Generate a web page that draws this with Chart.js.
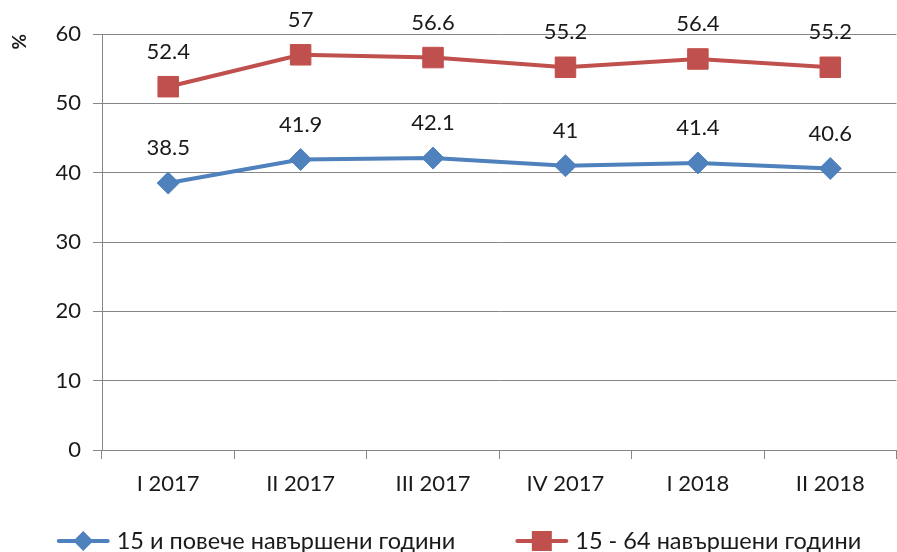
<!DOCTYPE html>
<html><head><meta charset="utf-8">
<script src="https://cdn.jsdelivr.net/npm/chart.js@4/dist/chart.umd.min.js"></script>
<style>html,body{margin:0;padding:0;overflow:hidden;background:#fff}#wrap{width:912px;height:552px}</style>
</head><body><div id="wrap"><canvas id="c" width="912" height="552"></canvas></div>
<script>
const categories = ["I 2017","II 2017","III 2017","IV 2017","I 2018","II 2018"];
const series1 = [38.5, 41.9, 42.1, 41, 41.4, 40.6];
const series2 = [52.4, 57, 56.6, 55.2, 56.4, 55.2];
const seriesNames = ["15 и повече навършени години", "15 - 64 навършени години"];
const yTicks = [0,10,20,30,40,50,60];
const FONT = "Lato, 'Open Sans', sans-serif";
const BLUE = "#4F81BD", RED = "#C0504D";
const TXT = "#1a1a1a";

const labelPlugin = {
  id:'valLabels',
  afterDatasetsDraw(chart){
    const ctx = chart.ctx;
    ctx.save();
    ctx.font = "22px " + FONT;
    ctx.fillStyle = TXT;
    ctx.textAlign = 'center'; ctx.textBaseline = 'middle';
    chart.data.datasets.forEach((ds,i)=>{
      chart.getDatasetMeta(i).data.forEach((pt,j)=>{
        ctx.fillText(String(ds.data[j]), pt.x, pt.y - 35);
      });
    });
    ctx.restore();
  }
};

const legendPlugin = {
  id:'customLegend',
  afterDraw(chart){
    const ctx = chart.ctx;
    ctx.save();
    ctx.font = "23.5px " + FONT;
    ctx.textBaseline = 'middle'; ctx.textAlign = 'left';
    const iconW = 53, gapIcon = 7, gapItems = 60;
    const w0 = ctx.measureText(seriesNames[0]).width, w1 = ctx.measureText(seriesNames[1]).width;
    const total = iconW + gapIcon + w0 + gapItems + iconW + gapIcon + w1;
    let x = 459 - total/2;
    const y = 541;
    const items = [[BLUE,'diamond',seriesNames[0],w0],[RED,'square',seriesNames[1],w1]];
    items.forEach(([col,shape,txt,w])=>{
      ctx.strokeStyle = col; ctx.lineWidth = 4; ctx.lineCap='round';
      ctx.beginPath(); ctx.moveTo(x+2,y); ctx.lineTo(x+iconW-2,y); ctx.stroke();
      ctx.fillStyle = col;
      const cx = x + iconW/2;
      if (shape==='diamond'){ ctx.beginPath(); ctx.moveTo(cx,y-10); ctx.lineTo(cx+10,y); ctx.lineTo(cx,y+10); ctx.lineTo(cx-10,y); ctx.closePath(); ctx.fill(); }
      else { ctx.fillRect(cx-10,y-10,20,20); }
      ctx.fillStyle = TXT;
      ctx.fillText(txt, x + iconW + gapIcon, y);
      x += iconW + gapIcon + w + gapItems;
    });
    ctx.restore();
  }
};

new Chart(document.getElementById('c'), {
  type:'line',
  data:{
    labels: categories,
    datasets:[
      {label: seriesNames[0], data: series1, borderColor: BLUE, backgroundColor: BLUE, borderWidth: 4,
       pointStyle:'rectRot', pointRadius: 11, pointHoverRadius: 11, pointBorderWidth:1, tension: 0},
      {label: seriesNames[1], data: series2, borderColor: RED, backgroundColor: RED, borderWidth: 4,
       pointStyle:'rect', pointRadius: 14.5, pointHoverRadius: 14.5, pointBorderWidth:1, tension: 0}
    ]
  },
  options:{
    responsive:false, animation:false, devicePixelRatio:1,
    layout:{padding:{top:34, right:4, left:0, bottom:40}},
    plugins:{ tooltip:{enabled:false}, legend:{display:false} },
    scales:{
      x:{
        offset:true,
        grid:{display:true, drawOnChartArea:false, drawTicks:true, tickLength:9, color:'#868686', offset:true},
        border:{color:'#868686', width:1},
        ticks:{font:{size:22, family:FONT}, color:TXT, padding:12},
        afterFit(s){ s.height = 62; }
      },
      y:{
        min:0, max:60,
        afterBuildTicks(s){ s.ticks = yTicks.map(v=>({value:v})); },
        grid:{color:'#868686', tickLength:9, drawTicks:true},
        border:{color:'#868686', width:1},
        ticks:{font:{size:22, family:FONT}, color:TXT, padding:12},
        title:{display:true, text:'%', align:'end', font:{size:19, weight:'bold', family:FONT}, color:TXT, padding:{top:8, bottom:0}},
        afterFit(s){ s.width = 102; }
      }
    }
  },
  plugins:[labelPlugin, legendPlugin]
});
</script></body></html>
